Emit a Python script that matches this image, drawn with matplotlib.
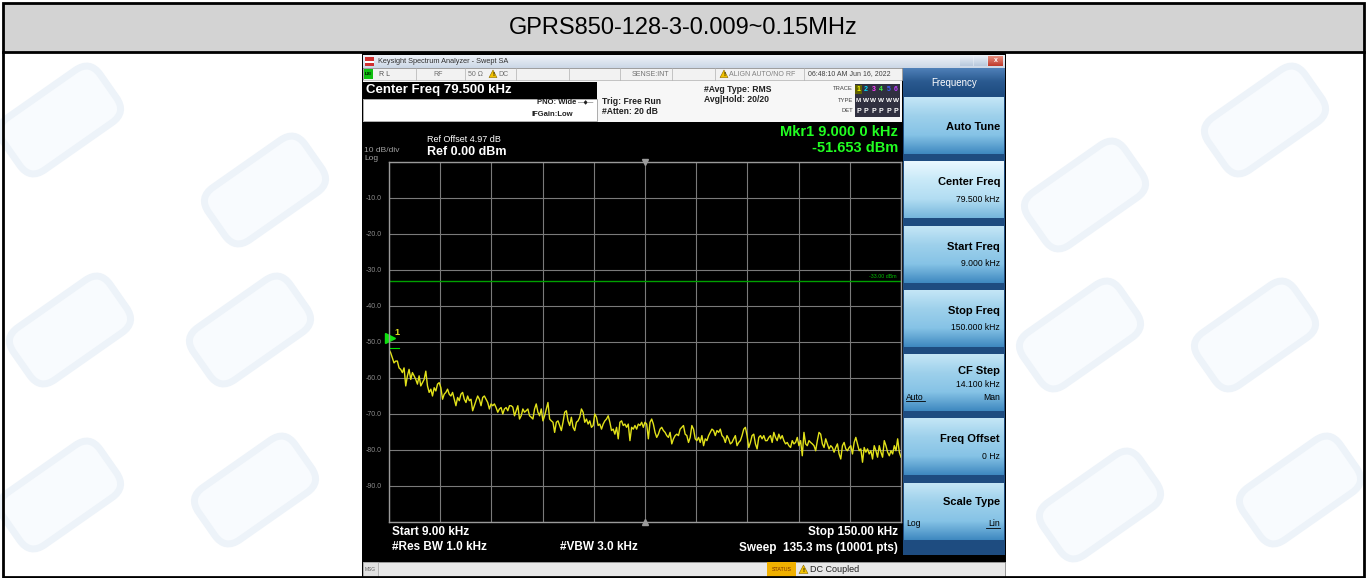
import numpy as np
import matplotlib
matplotlib.use("Agg")
import matplotlib.pyplot as plt
import matplotlib.colors as mcolors
from matplotlib.patches import Rectangle, Polygon, FancyBboxPatch
from matplotlib.transforms import Affine2D, offset_copy

plt.rcParams['font.family'] = ['Liberation Sans', 'DejaVu Sans']

# --- data ---
title = "GPRS850-128-3-0.009~0.15MHz"
start_khz = 9.0
stop_khz = 150.0
center_khz = 79.5
limit_dbm = -33.0
mkr_khz = 9.0
mkr_dbm = -51.653
y_ticks = [-10, -20, -30, -40, -50, -60, -70, -80, -90]

# trace, dBm, sweep points from 9 kHz to 150 kHz (read in four pieces)
trace_a = [-52.1, -53.0, -54.4, -55.8, -55.3, -55.3, -57.2, -57.6, -58.5, -57.2,
           -62.2, -59.4, -57.6, -60.4, -58.5, -59.4, -60.4, -61.7, -59.4, -62.2,
           -61.3, -60.4, -58.1, -62.2, -64.0, -63.1, -65.0, -62.7, -63.6, -61.7,
           -61.3, -62.7, -65.9, -64.5, -64.0, -63.1, -64.5, -65.0, -64.0, -65.9,
           -67.7, -65.4, -66.3, -64.5, -64.0, -65.9, -66.8, -65.0, -66.3, -65.9,
           -69.1, -67.7, -66.3, -65.0, -65.9, -67.7, -65.4, -65.0, -65.9, -66.8,
           -68.6, -67.2, -67.7, -67.2, -68.2, -69.5, -68.6, -68.2, -70.0, -68.6,
           -68.2, -69.1, -67.7]
trace_b = [-67.7, -68.1, -70.5, -69.1, -67.7, -71.4, -70.5, -68.6, -69.5, -69.1,
           -68.6, -70.5, -70.9, -71.4, -68.6, -67.2, -69.5, -70.5, -68.6, -71.9,
           -70.5, -68.6, -66.8, -71.4, -71.9, -72.3, -75.1, -72.3, -71.9, -73.2,
           -74.6, -72.3, -69.5, -69.1, -71.9, -73.2, -70.9, -73.7, -74.6, -72.3,
           -71.9, -70.9, -68.6, -69.5, -72.3, -71.4, -72.8, -71.9, -73.7, -73.2,
           -70.0, -70.9, -73.2, -72.8, -74.2, -72.8, -71.9, -71.4, -70.5, -72.3,
           -74.6, -74.2, -75.6, -73.7, -76.9, -72.3, -71.9, -73.2, -72.8, -73.7,
           -72.8, -77.4, -73.7, -74.2, -73.2]
trace_c = [-74.2, -72.8, -73.2, -72.3, -73.7, -72.3, -72.8, -76.9, -72.3, -71.4,
           -72.8, -75.1, -76.5, -75.6, -74.2, -73.7, -74.6, -75.1, -76.0, -76.5,
           -75.1, -78.3, -76.9, -76.0, -75.6, -76.0, -74.2, -73.7, -73.2, -75.6,
           -76.0, -77.9, -76.5, -73.2, -74.2, -76.9, -77.4, -76.5, -77.9, -76.0,
           -78.8, -76.9, -77.4, -76.0, -75.1, -74.2, -74.6, -76.0, -74.6, -75.1,
           -74.2, -76.0, -76.5, -77.9, -76.0, -76.9, -78.3, -77.9, -76.9, -76.0,
           -78.8, -77.9, -77.4, -76.0, -74.2, -73.7, -76.0, -79.3, -77.9, -76.0,
           -75.6, -78.3, -79.7, -76.5, -76.0, -76.9, -76.0, -77.4]
trace_d = [-77.4, -76.5, -76.0, -77.9, -75.1, -76.5, -77.4, -75.6, -76.9, -76.0,
           -77.4, -78.3, -77.9, -78.8, -79.3, -77.4, -78.3, -77.9, -76.5, -78.8,
           -77.4, -81.6, -75.1, -78.3, -78.8, -77.4, -77.9, -78.3, -78.8, -80.2,
           -77.4, -75.1, -75.6, -78.3, -79.3, -76.9, -78.3, -79.7, -78.8, -79.3,
           -80.6, -79.3, -78.3, -81.1, -82.5, -78.8, -77.9, -79.7, -80.2, -79.3,
           -78.8, -81.1, -77.9, -76.5, -78.3, -80.2, -79.7, -83.4, -79.3, -80.6,
           -79.7, -81.1, -80.2, -82.5, -78.8, -80.2, -82.0, -78.8, -80.6, -82.0,
           -77.4, -78.8, -80.6, -81.6, -80.2, -81.1, -78.8, -80.2, -76.9, -80.6,
           -82.0]

softkey_titles = ["Auto Tune", "Center Freq", "Start Freq", "Stop Freq",
                  "CF Step", "Freq Offset", "Scale Type"]
softkey_values = ["", "79.500 kHz", "9.000 kHz", "150.000 kHz",
                  "14.100 kHz", "0 Hz", ""]

trace = np.array(trace_a + trace_b + trace_c + trace_d)
freq = np.linspace(start_khz, stop_khz, len(trace))

W, H = 1371, 578
fig = plt.figure(figsize=(W / 100, H / 100), dpi=100)
bg = fig.add_axes([0, 0, 1, 1])
bg.set_xlim(0, W)
bg.set_ylim(H, 0)
bg.axis('off')


def box(x0, y0, x1, y1, **kw):
    bg.add_patch(Rectangle((x0, y0), x1 - x0, y1 - y0, **kw))


def grad(x0, y0, x1, y1, colors, z=2):
    # vertical gradient through a few colour stops
    stops = np.array([mcolors.to_rgb(c) for c in colors])
    t = np.linspace(0, 1, 64)
    pos = np.linspace(0, 1, len(stops))
    img = np.stack([np.interp(t, pos, stops[:, k]) for k in range(3)], axis=1)
    bg.imshow(img[:, None, :], extent=(x0, x1, y1, y0), aspect='auto',
              interpolation='bilinear', zorder=z)


def txt(x, y, s, size, color='black', ha='left', bold=False, z=5, **kw):
    bg.text(x, y, s, fontsize=size, color=color, ha=ha, va='center',
            fontweight='bold' if bold else 'normal', zorder=z, **kw)


def warn(x, y, s=9):
    bg.add_patch(Polygon([[x, y + s * 0.45], [x + s / 2, y - s * 0.5],
                          [x + s, y + s * 0.45]], closed=True,
                         facecolor='#f2c200', edgecolor='#8a6a00', lw=0.4, zorder=6))
    bg.text(x + s / 2, y + 0.5, "!", fontsize=4.5, ha='center', va='center',
            fontweight='bold', zorder=7)


# table frame and title row, faint watermark logos behind
box(0, 0, W, H, facecolor='white', edgecolor='none', zorder=0)
for (cx, cy) in [(60, 120), (265, 190), (70, 330), (250, 330), (60, 495), (255, 490),
                 (1085, 195), (1265, 120), (1080, 335), (1255, 335), (1100, 505), (1300, 490)]:
    p = FancyBboxPatch((cx - 55, cy - 28), 110, 56, boxstyle="round,pad=4,rounding_size=18",
                       facecolor='#f8fbfe', edgecolor='#edf3f9', lw=5, zorder=0.5)
    p.set_transform(Affine2D().rotate_deg_around(cx, cy, -35) + bg.transData)
    bg.add_patch(p)
box(3, 3, 1364, 52, facecolor='#d3d3d3', edgecolor='none', zorder=1)
box(3, 3, 1364, 577, facecolor='none', edgecolor='black', lw=2, zorder=9)
bg.plot([3, 1364], [52, 52], color='black', lw=2, zorder=9)
txt(683, 28, title, 17, ha='center', z=10)

# analyzer window
box(362, 53, 1006, 578, facecolor='black', edgecolor='none', zorder=1)
grad(363, 55, 1005, 68, ['#eef2f8', '#cbd7e6'])
box(365, 57, 374, 66, facecolor='#d03030', edgecolor='none', zorder=4)
box(365, 61, 374, 63, facecolor='white', edgecolor='none', zorder=5)
txt(378, 61.5, "Keysight Spectrum Analyzer - Swept SA", 5.3, color='#303030')
grad(960, 56, 973, 66, ['#e8eef6', '#b8c8dc'], z=4)
grad(974, 56, 987, 66, ['#e8eef6', '#b8c8dc'], z=4)
grad(988, 56, 1003, 66, ['#e89080', '#c0392b'], z=4)
txt(995.5, 61, "x", 5, color='white', ha='center', bold=True)

# status row
box(363, 68, 902, 80, facecolor='#f2f2f2', edgecolor='#b0b0b0', lw=0.5, zorder=3)
box(364, 69, 373, 79, facecolor='#10c010', edgecolor='none', zorder=4)
txt(368.5, 74, "LXI", 3.2, ha='center', bold=True)
for xd in [416, 465, 516, 569, 620, 672, 715, 804]:
    bg.plot([xd, xd], [68, 80], color='#b0b0b0', lw=0.5, zorder=4)
txt(379, 74, "R L", 5, color='#505050')
txt(433, 74, "RF", 5, color='#707070')
txt(468, 74, "50 \u03a9", 5, color='#707070')
warn(489, 74, 8)
txt(498, 74, "DC", 5, color='#707070')
txt(632, 74, "SENSE:INT", 5, color='#707070')
warn(720, 74, 8)
txt(729, 74, "ALIGN AUTO/NO RF", 5, color='#808080')
txt(808, 74, "06:48:10 AM Jun 16, 2022", 5, color='#404040')

# header area
box(363, 80, 902, 122, facecolor='#f7f7f7', edgecolor='none', zorder=2)
box(363, 82, 597, 99, facecolor='black', edgecolor='none', zorder=3)
box(363, 99, 597, 121, facecolor='white', edgecolor='#a0a0a0', lw=0.6, zorder=3)
txt(366, 90.5, "Center Freq 79.500 kHz", 9.5, color='white', bold=True)
txt(576, 103, "PNO: Wide", 5.5, ha='right', bold=True, color='#202020')
txt(578, 103, "\u2014\u25c6\u2014", 4, color='#202020')
txt(532, 114, "IFGain:Low", 5.5, bold=True, color='#202020')
txt(602, 101, "Trig: Free Run", 6.2, bold=True, color='#202020')
txt(602, 112, "#Atten: 20 dB", 6.2, bold=True, color='#202020')
txt(704, 89, "#Avg Type: RMS", 6.2, bold=True, color='#202020')
txt(704, 100, "Avg|Hold: 20/20", 6.2, bold=True, color='#202020')
for lab, yy in [("TRACE", 89), ("TYPE", 100), ("DET", 111)]:
    txt(853, yy, lab, 4.2, ha='right', color='#404040')
box(855, 84, 900, 117, facecolor='#303040', edgecolor='none', zorder=3)
trace_cols = ['#ffff00', '#00e0ff', '#ff40ff', '#40ff40', '#4060ff', '#c040ff']
for k in range(6):
    xk = 858.5 + k * 7.5
    if k == 0:
        box(xk - 3.5, 85, xk + 3.5, 94, facecolor='#606000', edgecolor='none', zorder=4)
    txt(xk, 89.5, str(k + 1), 5, color=trace_cols[k], ha='center', bold=True)
    txt(xk, 100.5, "M" if k == 0 else "W", 4.6, color='white', ha='center', bold=True)
    txt(xk, 111.5, "P", 5, color='white', ha='center', bold=True)

# screen texts
txt(898, 132, "Mkr1 9.000 0 kHz", 10.5, color='#22ff22', ha='right', bold=True)
txt(898, 148, "-51.653 dBm", 10.5, color='#22ff22', ha='right', bold=True)
txt(427, 139, "Ref Offset 4.97 dB", 6.5, color='white')
txt(427, 152, "Ref 0.00 dBm", 9, color='white', bold=True)
txt(364, 151, "10 dB/div", 6, color='#a0a0a0')
txt(364, 158.5, "Log", 6, color='#a0a0a0')
txt(392, 532, "Start 9.00 kHz", 8.5, color='white', bold=True)
txt(392, 547.5, "#Res BW 1.0 kHz", 8.5, color='white', bold=True)
txt(560, 547.5, "#VBW 3.0 kHz", 8.5, color='white', bold=True)
txt(898, 532, "Stop 150.00 kHz", 8.5, color='white', ha='right', bold=True)
txt(898, 547.5, "Sweep  135.3 ms (10001 pts)", 8.5, color='white', ha='right', bold=True)

# message/status bar
box(363, 562, 1005, 577, facecolor='#e8e8e8', edgecolor='#a0a0a0', lw=0.6, zorder=3)
box(363, 562, 378, 577, facecolor='#e0e0e0', edgecolor='#a0a0a0', lw=0.5, zorder=4)
txt(365, 569.5, "MSG", 3.5, color='#606060')
box(767, 562, 796, 577, facecolor='#f0b000', edgecolor='none', zorder=4)
txt(781.5, 569.5, "STATUS", 3.8, color='#7a3000', ha='center')
warn(799, 569.5, 9)
txt(810, 569.5, "DC Coupled", 6.5, color='#202020')

# softkey panel
box(903, 68, 1005, 555, facecolor='#1e4c80', edgecolor='none', zorder=2)
grad(903, 68, 1005, 95, ['#4f80b8', '#2a5a90', '#1e4c80'], z=3)
txt(954, 83, "Frequency", 7, color='white', ha='center')
for i, (name, val) in enumerate(zip(softkey_titles, softkey_values)):
    top = 97 + 64.3 * i
    bot = top + 57
    if i == 1:
        grad(904, top, 1004, bot, ['#eaf8ff', '#c8e9f8', '#b2ddf2', '#76b6dc'], z=3)
    else:
        grad(904, top, 1004, bot, ['#c4e6f6', '#9dd0eb', '#86c3e6', '#3f89c0'], z=3)
    if name == "Auto Tune":
        txt(1000, top + 30, name, 8, ha='right', bold=True)
    elif name == "CF Step":
        txt(1000, top + 17, name, 8, ha='right', bold=True)
        txt(1000, top + 30, val, 6.2, ha='right')
        txt(906, top + 43, "Auto", 6.2)
        bg.plot([906, 925], [top + 47, top + 47], color='black', lw=0.6, zorder=5)
        txt(1000, top + 43, "Man", 6.2, ha='right')
    elif name == "Scale Type":
        txt(1000, top + 19, name, 8, ha='right', bold=True)
        txt(906, top + 41, "Log", 6.2)
        txt(1000, top + 41, "Lin", 6.2, ha='right')
        bg.plot([986, 1000], [top + 45, top + 45], color='black', lw=0.6, zorder=5)
    else:
        txt(1000, top + 21, name, 8, ha='right', bold=True)
        txt(1000, top + 38, val, 6.2, ha='right')

# the graticule itself
ax = fig.add_axes([389 / W, 1 - 522 / H, 512 / W, 360 / H], zorder=5)
ax.set_facecolor('black')
ax.set_xlim(start_khz, stop_khz)
ax.set_ylim(-100, 0)
ax.set_xticks(np.linspace(start_khz, stop_khz, 11))
ax.set_yticks(np.arange(-100, 1, 10))
ax.set_xticklabels([])
ax.set_yticklabels([("%.1f" % v if v in y_ticks else "") for v in np.arange(-100, 1, 10)],
                   fontsize=5, color='#8c8c8c')
ax.tick_params(length=0, pad=5)
ax.grid(True, color='#7a7a7a', lw=0.8)
ax.set_axisbelow(True)
for s in ax.spines.values():
    s.set_color('#9a9a9a')
    s.set_linewidth(1.0)

ax.axhline(limit_dbm, color='#00a000', lw=1.0)
ax.text(stop_khz - 1.2, limit_dbm + 0.6, "-33.00 dBm", fontsize=3.8, color='#00c000',
        ha='right', va='bottom')
ax.plot(freq, trace, color='#e2e21a', lw=1.0)
ax.axhline(mkr_dbm, xmin=0, xmax=10 / 512, color='#00e000', lw=0.8)
ax.plot([mkr_khz], [mkr_dbm], marker='>', ms=6.5, color='#10e010', clip_on=False,
        transform=offset_copy(ax.transData, fig, x=1, y=10, units='dots'))
ax.text(mkr_khz, mkr_dbm, "1", fontsize=6.5, color='#e0e020', fontweight='bold',
        transform=offset_copy(ax.transData, fig, x=5, y=13, units='dots'))
ax.plot([center_khz], [0], marker='v', ms=4, color='#9a9a9a', clip_on=False)
ax.plot([center_khz], [-100], marker='^', ms=4, color='#9a9a9a', clip_on=False)

fig.savefig("out.png", dpi=100, facecolor='white')
